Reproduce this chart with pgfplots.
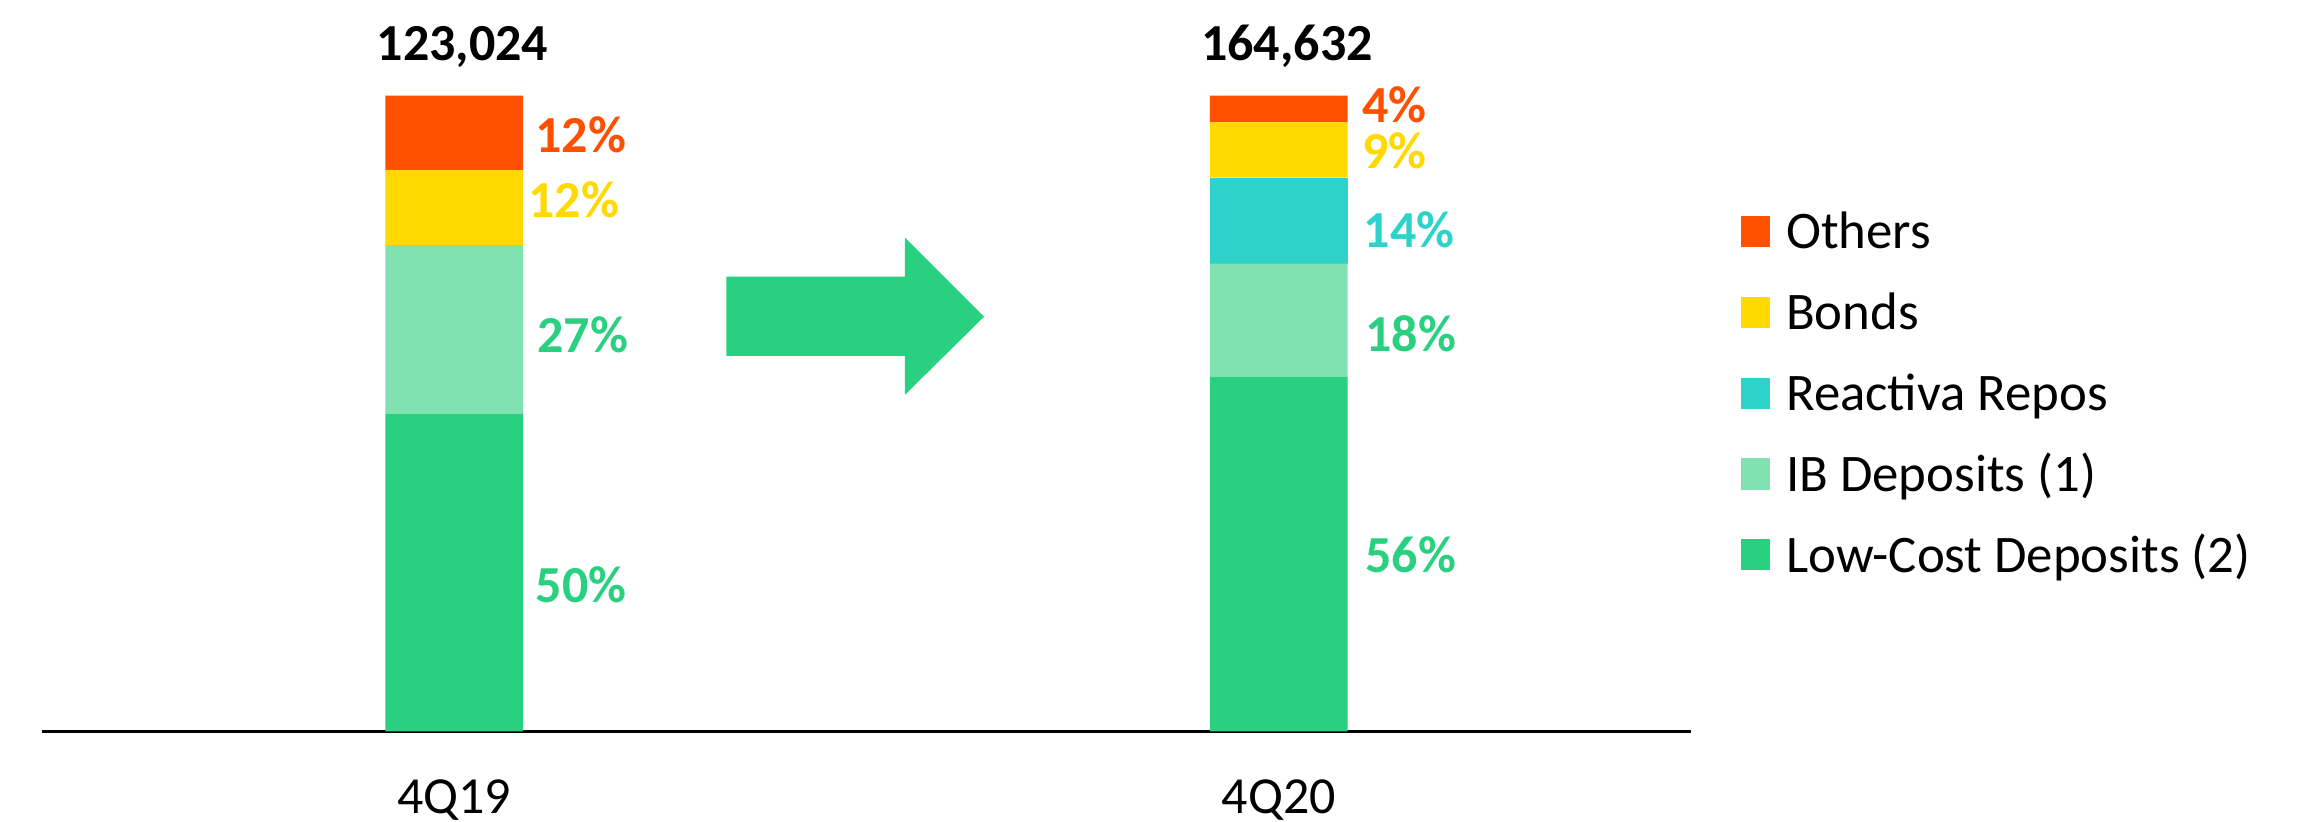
\documentclass[border=0pt]{standalone}
\usepackage{pgfplots}
\pgfplotsset{compat=1.18}
\usepackage{fontspec}
\setmainfont{Carlito}
\definecolor{cOthers}{HTML}{FF5000}
\definecolor{cBonds}{HTML}{FFD900}
\definecolor{cRepos}{HTML}{2DD3CB}
\definecolor{cIB}{HTML}{80E2B0}
\definecolor{cLow}{HTML}{29D07F}
\begin{document}
\begin{tikzpicture}
\path[use as bounding box] (-10.5pt,-22.625pt) rectangle (565.75pt,182.875pt);
\begin{axis}[
  scale only axis,
  width=412.25pt, height=158.95pt,
  xmin=-0.5, xmax=1.5, ymin=0, ymax=100,
  ybar stacked, bar width=0.1668,
  axis x line=bottom, axis y line=none,
  x axis line style={-, line width=0.9pt, black},
  xtick={0,1}, xticklabels={4Q19,4Q20},
  major tick length=0pt,
  xticklabel style={font=\fontsize{13}{15}\selectfont, inner sep=0pt, anchor=north, yshift=-11.9pt},
  ytick=\empty,
  clip=false,
  reverse legend,
  legend style={at={(axis cs:1.5607,82.2)}, anchor=north west, draw=none, fill=none,
    inner sep=0pt, outer sep=0pt, row sep=8.8pt,
    font=\fontsize{13.2}{15}\selectfont,
    nodes={inner sep=0pt, text height=10pt, text depth=1.4pt},
    cells={anchor=west},
    /tikz/every odd column/.append style={column sep=4pt}},
  legend image code/.code={\fill[#1] (0pt,-3.9pt) rectangle (7.3pt,3.9pt);},
]
\addplot[fill=cLow, draw=none] coordinates {(0,49.9) (1,55.8)};
\addlegendentry{Low-Cost Deposits (2)}
\addplot[fill=cIB, draw=none] coordinates {(0,26.6) (1,17.8)};
\addlegendentry{IB Deposits (1)}
\addplot[fill=cRepos, draw=none] coordinates {(0,0) (1,13.5)};
\addlegendentry{Reactiva Repos}
\addplot[fill=cBonds, draw=none] coordinates {(0,11.8) (1,8.7)};
\addlegendentry{Bonds}
\addplot[fill=cOthers, draw=none] coordinates {(0,11.7) (1,4.2)};
\addlegendentry{Others}

\node[anchor=base, inner sep=0pt, font=\fontsize{13}{15}\selectfont\bfseries] at (axis cs:0.01,105.6) {123,024};
\node[anchor=base, inner sep=0pt, font=\fontsize{13}{15}\selectfont\bfseries] at (axis cs:1.01,105.6) {164,632};
\node[anchor=west, inner sep=0pt, font=\fontsize{13}{15}\selectfont\bfseries, text=cOthers] at (axis cs:0.0976,93.8) {12\%};
\node[anchor=west, inner sep=0pt, font=\fontsize{13}{15}\selectfont\bfseries, text=cBonds] at (axis cs:0.089,83.6) {12\%};
\node[anchor=west, inner sep=0pt, font=\fontsize{13}{15}\selectfont\bfseries, text=cLow] at (axis cs:0.100,62.4) {27\%};
\node[anchor=west, inner sep=0pt, font=\fontsize{13}{15}\selectfont\bfseries, text=cLow] at (axis cs:0.098,23.0) {50\%};
\node[anchor=west, inner sep=0pt, font=\fontsize{13}{15}\selectfont\bfseries, text=cOthers] at (axis cs:1.100,98.6) {4\%};
\node[anchor=west, inner sep=0pt, font=\fontsize{13}{15}\selectfont\bfseries, text=cBonds] at (axis cs:1.100,91.3) {9\%};
\node[anchor=west, inner sep=0pt, font=\fontsize{13}{15}\selectfont\bfseries, text=cRepos] at (axis cs:1.102,78.9) {14\%};
\node[anchor=west, inner sep=0pt, font=\fontsize{13}{15}\selectfont\bfseries, text=cLow] at (axis cs:1.104,62.6) {18\%};
\node[anchor=west, inner sep=0pt, font=\fontsize{13}{15}\selectfont\bfseries, text=cLow] at (axis cs:1.104,27.8) {56\%};
\fill[cLow] (axis cs:0.3301,71.53) -- (axis cs:0.5464,71.53) -- (axis cs:0.5464,77.73) -- (axis cs:0.6426,65.24) -- (axis cs:0.5464,52.93) -- (axis cs:0.5464,59.06) -- (axis cs:0.3301,59.06) -- cycle;
\end{axis}
\end{tikzpicture}
\end{document}
